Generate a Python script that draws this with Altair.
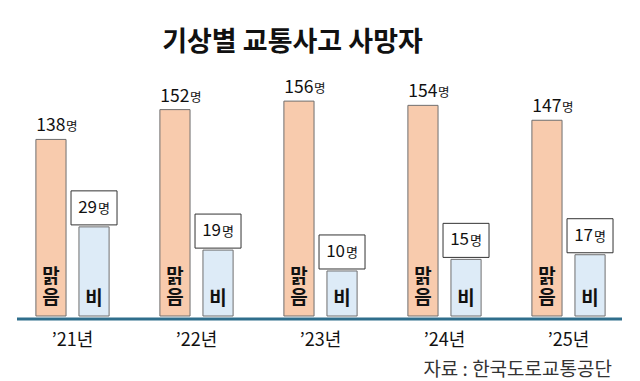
import altair as alt
import pandas as pd

years = ["’21년", "’22년", "’23년", "’24년", "’25년"]
clear = [138, 152, 156, 154, 147]
rain = [29, 19, 10, 15, 17]
series = ["맑음", "비"]
inner_labels = ["맑\n음", "비"]
unit = "명"
title_text = "기상별 교통사고 사망자"
source_text = "자료 : 한국도로교통공단"

FONT = "Noto Sans CJK KR"
W, H = 620, 246
C_CLEAR = "#F8CBAD"
C_RAIN = "#DDEBF7"
DOM_CLEAR = [55.1, 170.6]
DOM_RAIN = [-9.4, 96.6]

df_clear = pd.DataFrame({"year": years, "series": series[0], "value": clear,
                         "inner": inner_labels[0], "unit": unit})
df_rain = pd.DataFrame({"year": years, "series": series[1], "value": rain,
                        "inner": inner_labels[1], "unit": unit})

x_enc = alt.X("year:N", sort=years,
              scale=alt.Scale(domain=years, paddingInner=0, paddingOuter=0),
              axis=alt.Axis(title=None, domain=False, ticks=False, tickSize=0,
                            labelAngle=0, labelFont=FONT, labelFontSize=18,
                            labelColor="#111111", labelBaseline="middle",
                            labelPadding=24, grid=False))
xo_enc = alt.XOffset("series:N", sort=series,
                     scale=alt.Scale(domain=series, paddingInner=0.3, paddingOuter=0.59))

y_clear = alt.Y("value:Q", stack=None,
                scale=alt.Scale(domain=DOM_CLEAR, zero=False, nice=False), axis=None)
y_rain = alt.Y("value:Q", stack=None,
               scale=alt.Scale(domain=DOM_RAIN, zero=False, nice=False), axis=None)

bc = alt.Chart(df_clear)
br = alt.Chart(df_rain)

clear_bars = bc.mark_bar(fill=C_CLEAR, stroke="#6f6f6f", strokeWidth=1).encode(
    x=x_enc, xOffset=xo_enc, y=y_clear, y2=alt.Y2(datum=DOM_CLEAR[0]))
clear_inner = bc.mark_text(font=FONT, fontSize=19, fontWeight="bold", lineBreak="\n",
                           lineHeight=21, baseline="bottom", dy=-21,
                           color="#111111").encode(
    x=x_enc, xOffset=xo_enc, y=alt.value(H - 8), text="inner:N")
clear_num = bc.mark_text(font=FONT, fontSize=17.5, align="right", baseline="alphabetic",
                         dx=14.5, dy=-8, color="#111111").encode(
    x=x_enc, xOffset=xo_enc, y=y_clear, text="value:Q")
clear_unit = bc.mark_text(font=FONT, fontSize=12.5, align="left", baseline="alphabetic",
                          dx=15, dy=-8, color="#111111").encode(
    x=x_enc, xOffset=xo_enc, y=y_clear, text="unit:N")

rain_bars = br.mark_bar(fill=C_RAIN, stroke="#6f6f6f", strokeWidth=1).encode(
    x=x_enc, xOffset=xo_enc, y=y_rain, y2=alt.Y2(datum=DOM_RAIN[0]))
rain_inner = br.mark_text(font=FONT, fontSize=19, fontWeight="bold", lineBreak="\n",
                          lineHeight=21, baseline="bottom", color="#111111").encode(
    x=x_enc, xOffset=xo_enc, y=alt.value(H - 7), text="inner:N")
rain_box = br.mark_point(shape="M-1,-0.74L1,-0.74L1,0.74L-1,0.74Z", size=46 * 46,
                         filled=False, fill="white", fillOpacity=1, opacity=1,
                         stroke="#333333", strokeWidth=1, yOffset=-19).encode(
    x=x_enc, xOffset=xo_enc, y=y_rain)
rain_num = br.mark_text(font=FONT, fontSize=17, align="right", baseline="middle",
                        dx=3, dy=-19, color="#111111").encode(
    x=x_enc, xOffset=xo_enc, y=y_rain, text="value:Q")
rain_unit = br.mark_text(font=FONT, fontSize=13, align="left", baseline="middle",
                         dx=4, dy=-18, color="#111111").encode(
    x=x_enc, xOffset=xo_enc, y=y_rain, text="unit:N")

one = alt.Chart(pd.DataFrame({"t": [source_text]}))
base_line = one.mark_rule(color="#2F6E8C", strokeWidth=3).encode(
    x=alt.value(6.5), x2=alt.value(611.5), y=alt.value(H + 3))
source = one.mark_text(font=FONT, fontSize=19, align="right", baseline="middle",
                       color="#333333").encode(
    x=alt.value(601.5), y=alt.value(300), text="t:N")

chart = alt.layer(
    clear_bars, clear_inner, clear_num, clear_unit,
    rain_bars, rain_inner, rain_box, rain_num, rain_unit,
    base_line, source,
).resolve_scale(y="independent").properties(
    width=W, height=H,
    title=alt.TitleParams(title_text, font=FONT, fontSize=27, fontWeight="bold",
                          color="#111111", anchor="middle", frame="group",
                          baseline="bottom", offset=8, dx=-28, dy=22),
    autosize=alt.AutoSizeParams(type="none"),
    padding={"left": 10.5, "top": 70, "right": 9.5, "bottom": 65},
).configure_view(stroke=None)

chart.save("out.html", embed_options={"renderer": "svg", "actions": False})
